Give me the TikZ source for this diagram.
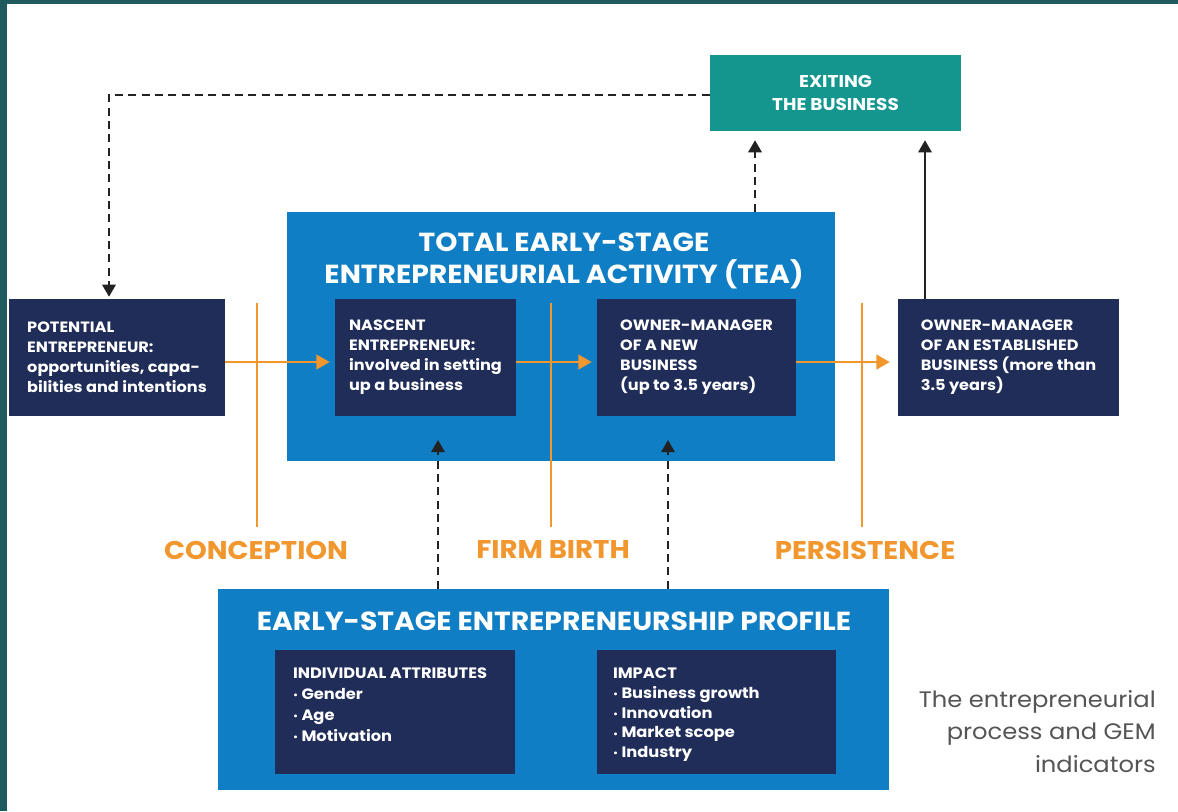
\documentclass[tikz,border=0pt]{standalone}
\usepackage{fontspec}
\setmainfont{Poppins}[FakeStretch=1.08]
\usetikzlibrary{arrows.meta,calc}
\definecolor{navy}{HTML}{1F2D58}
\definecolor{bblue}{HTML}{0F7EC4}
\definecolor{tealbox}{HTML}{14968F}
\definecolor{orng}{HTML}{F2962E}
\definecolor{frame}{HTML}{1E5A5E}
\definecolor{cap}{HTML}{555555}
\definecolor{arr}{HTML}{222222}
\tikzset{
  navybox/.style={rectangle, fill=navy, inner sep=0pt, text=white, align=left,
    font=\fontsize{11.2}{15}\selectfont\bfseries},
  bluebox/.style={rectangle, fill=bblue, inner sep=0pt},
  boxtitle/.style={text=white, font=\fontsize{19.6}{24}\selectfont\bfseries, align=center, inner sep=0pt},
  stagelabel/.style={text=orng, font=\fontsize{19.2}{22}\selectfont\bfseries, inner sep=0pt},
  stageline/.style={draw=orng, line width=2.2pt},
  orangearrow/.style={draw=orng, line width=1.6pt, -{Triangle[width=11pt,length=10pt]}},
  dasharrow/.style={draw=arr, line width=1.5pt, dash pattern=on 6pt off 4pt, -{Triangle[width=10pt,length=9pt]}},
  solidarrow/.style={draw=arr, line width=1.3pt, -{Triangle[width=10pt,length=9pt]}},
  listtext/.style={text=white, align=left, anchor=north west, inner sep=0pt,
    font=\fontsize{11.3}{15.6}\selectfont\bfseries},
}
\newcommand{\bul}{\raisebox{0.1ex}{\scriptsize\textbullet}\ }
\begin{document}
\begin{tikzpicture}[x=0.75pt,y=-0.75pt]
\useasboundingbox (0,0) rectangle (1178,811);
\fill[frame] (0,0) rectangle (1178,811);
\fill[white] (7,4) rectangle (1178,811);

% exiting box
\node[rectangle, fill=tealbox, inner sep=0pt, minimum width={251*0.75pt}, minimum height={76*0.75pt},
  text=white, align=center, font=\fontsize{12.8}{17.5}\selectfont\bfseries] (exit) at (835.5,93) {EXITING\\THE BUSINESS};

% TEA box
\node[bluebox, minimum width={548*0.75pt}, minimum height={249*0.75pt}] (tea) at (561,336.5) {};
\node[boxtitle] (teatitle) at (564,261) {TOTAL EARLY-STAGE\\ENTREPRENEURIAL ACTIVITY (TEA)};

% navy boxes
\node[navybox, minimum width={216*0.75pt}, minimum height={117*0.75pt}] (pot) at (117,357.5)
  {POTENTIAL\\ENTREPRENEUR:\\opportunities, capa-\\bilities and intentions};
\node[navybox, minimum width={181*0.75pt}, minimum height={117*0.75pt}] (nasc) at (425.5,357.5)
  {NASCENT\\ENTREPRENEUR:\\involved in setting\\up a business};
\node[navybox, minimum width={199*0.75pt}, minimum height={117*0.75pt}] (newb) at (696.5,357.5)
  {OWNER-MANAGER\\OF A NEW\\BUSINESS\\(up to 3.5 years)};
\node[navybox, minimum width={221*0.75pt}, minimum height={117*0.75pt}] (estb) at (1008.5,357.5)
  {OWNER-MANAGER\\OF AN ESTABLISHED\\BUSINESS (more than\\3.5 years)};

% stage lines and labels
\coordinate (c1t) at (257,303); \coordinate (c1b) at (257,527);
\coordinate (c2t) at (551,303); \coordinate (c2b) at (551,527);
\coordinate (c3t) at (862,303); \coordinate (c3b) at (862,527);
\draw[stageline] (c1t) -- (c1b);
\draw[stageline] (c2t) -- (c2b);
\draw[stageline] (c3t) -- (c3b);
\node[stagelabel] (lconc) at (256,550) {CONCEPTION};
\node[stagelabel] (lbirth) at (553,550) {FIRM BIRTH};
\node[stagelabel] (lpers) at (865,550) {PERSISTENCE};

% orange arrows
\draw[orangearrow, shorten >=3.75pt] ([yshift=-3.4pt]pot.east) -- ([yshift=-3.4pt]nasc.west);
\draw[orangearrow, shorten >=3.75pt] ([yshift=-3.4pt]nasc.east) -- ([yshift=-3.4pt]newb.west);
\draw[orangearrow, shorten >=6pt] ([yshift=-3.4pt]newb.east) -- ([yshift=-3.4pt]estb.west);

% profile box
\node[bluebox, minimum width={671*0.75pt}, minimum height={201*0.75pt}] (prof) at (553.5,689.5) {};
\node[boxtitle] (proftitle) at (554,621) {EARLY-STAGE ENTREPRENEURSHIP PROFILE};
\node[rectangle, fill=navy, inner sep=0pt, minimum width={240*0.75pt}, minimum height={124*0.75pt}] (indiv) at (395,712) {};
\node[rectangle, fill=navy, inner sep=0pt, minimum width={239*0.75pt}, minimum height={124*0.75pt}] (impact) at (716.5,712) {};
\node[listtext] (indivtext) at ([shift={(18,18)}]indiv.north west)
  {INDIVIDUAL ATTRIBUTES\\\bul Gender\\\bul Age\\\bul Motivation};
\node[listtext, font=\fontsize{11.3}{14.8}\selectfont\bfseries] (impacttext) at ([shift={(16,18)}]impact.north west)
  {IMPACT\\\bul Business growth\\\bul Innovation\\\bul Market scope\\\bul Industry};

% dashed arrows from profile to TEA
\coordinate (tip1) at (438,440);
\coordinate (tip2) at (668,440);
\draw[dasharrow] (prof.north -| tip1) -- (tip1);
\draw[dasharrow] (prof.north -| tip2) -- (tip2);

% arrows to exiting
\draw[dasharrow, shorten >=6.75pt] (tea.north -| 755,0) -- (exit.south -| 755,0);
\draw[solidarrow, shorten >=6.75pt] (estb.north -| 925,0) -- (exit.south -| 925,0);

% feedback loop
\coordinate (corner) at (109,95);
\draw[dasharrow, shorten >=1.5pt] (exit.west |- corner) -- (corner) -- (pot.north -| corner);

% caption
\node[text=cap, align=right, anchor=north east, inner sep=0pt, font=\fontsize{16.8}{24.5}\selectfont] (caption) at (1156,690)
  {The entrepreneurial\\process and GEM\\indicators};
\end{tikzpicture}
\end{document}
